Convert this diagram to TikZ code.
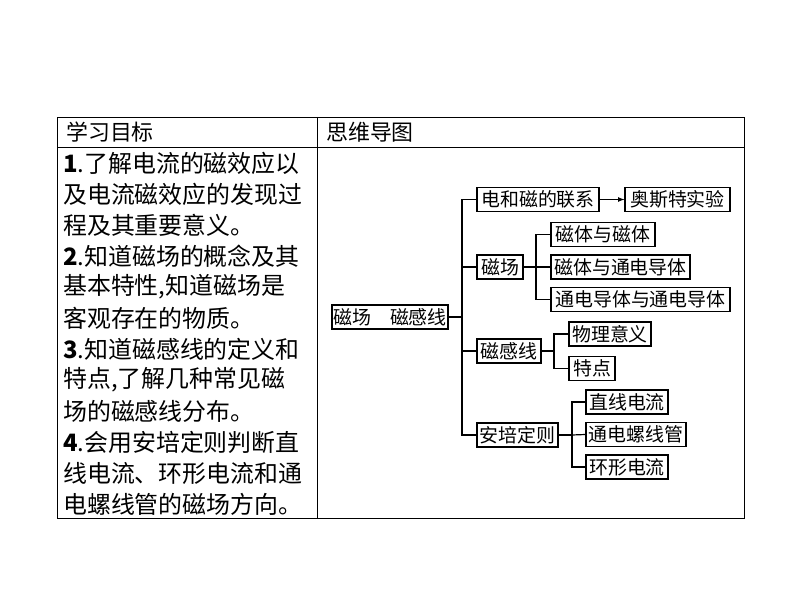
\documentclass[tikz,border=0pt]{standalone}
\usepackage{fontspec}
\setmainfont{Liberation Serif}
\newfontfamily\cjk{Noto Sans CJK SC}
\begin{document}
\begin{tikzpicture}[x=1bp,y=-1bp,
  bx/.style={draw,line width=1.2pt,inner sep=0pt,minimum height=24bp,font=\cjk\fontsize{19}{19}\selectfont},
  ln/.style={line width=1.2pt},
  lt/.style={anchor=west,inner sep=0pt,font=\cjk\fontsize{24}{24}\selectfont},
  hd/.style={anchor=west,inner sep=0pt,font=\cjk\fontsize{22}{22}\selectfont}]
\useasboundingbox (0,0) rectangle (794,596);
% table
\draw[line width=0.8pt] (57,117) rectangle (744,518);
\draw[line width=0.8pt] (57,147) -- (744,147);
\draw[line width=0.8pt] (317,117) -- (317,518);
\node[hd] (h1) at (66,132) {学习目标};
\node[hd] (h2) at (326,132) {思维导图};
% left text
\foreach \t [count=\i] in {{\textbf{1}.了解电流的磁效应以},{及电流磁效应的发现过},{程及其重要意义。},{\textbf{2}.知道磁场的概念及其},{基本特性,知道磁场是},{客观存在的物质。},{\textbf{3}.知道磁感线的定义和},{特点,了解几种常见磁},{场的磁感线分布。},{\textbf{4}.会用安培定则判断直},{线电流、环形电流和通},{电螺线管的磁场方向。}}
  \node[lt] (t\i) at (63,{163+31*(\i-1)}) {\t};
% mind map
\node[bx,minimum width=116bp] (root) at (390,317) {磁场\quad 磁感线};
\node[bx,minimum width=122bp] (a) at (538,199.5) {电和磁的联系};
\node[bx,minimum width=105bp] (a1) at (677.5,199.5) {奥斯特实验};
\node[bx,minimum width=46bp] (b) at (500,267) {磁场};
\node[bx,minimum width=104bp] (b1) at (603,234.5) {磁体与磁体};
\node[bx,minimum width=139bp] (b2) at (620.5,267) {磁体与通电导体};
\node[bx,minimum width=179bp] (b3) at (640.5,299.5) {通电导体与通电导体};
\node[bx,minimum width=64bp] (c) at (509,351) {磁感线};
\node[bx,minimum width=82bp] (c1) at (610,334) {物理意义};
\node[bx,minimum width=46bp] (c2) at (592,368.5) {特点};
\node[bx,minimum width=81bp] (d) at (517.5,435) {安培定则};
\node[bx,minimum width=82bp] (d1) at (627,402) {直线电流};
\node[bx,minimum width=100bp] (d2) at (636,434.5) {通电螺线管};
\node[bx,minimum width=82bp] (d3) at (627,467) {环形电流};
\draw[ln] (root.east) -- (462,317);
\draw[ln] (a.west) -| (462,317) |- (d.west);
\draw[ln] (b.west) -- (462,267);
\draw[ln] (c.west) -- (462,351);
\draw[ln,-latex] (a.east) -- (a1.west);
\draw[ln] (b.east) -- (536,267);
\draw[ln] (b1.west) -| (536,267) |- (b3.west);
\draw[ln] (b2.west) -- (536,267);
\draw[ln] (c.east) -- (554,351);
\draw[ln] (c1.west) -| (554,351) |- (c2.west);
\draw[ln] (d.east) -- (572,435);
\draw[ln] (d1.west) -| (572,435) |- (d3.west);
\draw[ln] (d2.west) -- (572,435);
\end{tikzpicture}
\end{document}
